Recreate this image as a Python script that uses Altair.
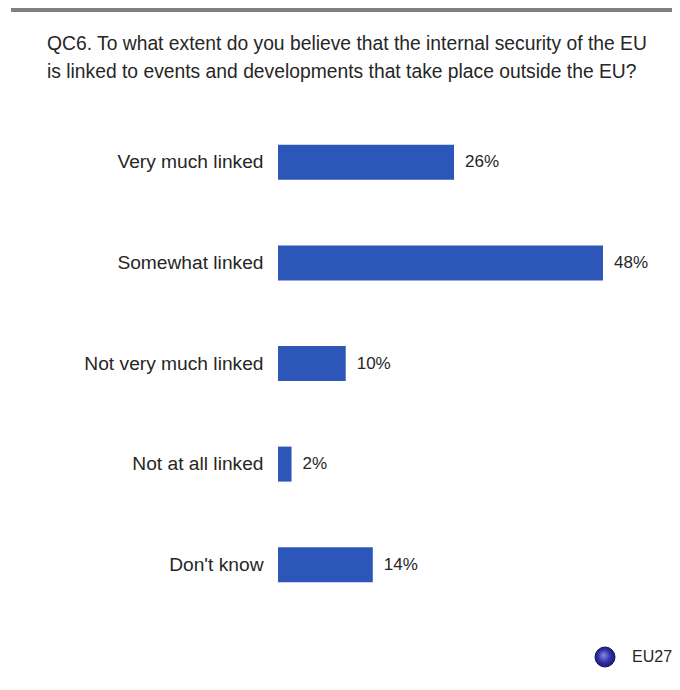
import altair as alt
import pandas as pd

categories = ["Very much linked", "Somewhat linked", "Not very much linked",
              "Not at all linked", "Don't know"]
values = [26, 48, 10, 2, 14]
value_labels = ["26%", "48%", "10%", "2%", "14%"]
series_name = ["EU27"]
title_lines = [
    "QC6. To what extent do you believe that the internal security of the EU",
    "is linked to events and developments that take place outside the EU?",
]

df = pd.DataFrame({"category": categories, "value": values, "label": value_labels})
legend_df = pd.DataFrame({"series": series_name})

FONT = "Liberation Sans"
BAR = "#2c56b8"
TEXT = "#262626"

x_scale = alt.Scale(domain=[0, 48], range=[270, 595], nice=False, zero=True)
y_scale = alt.Scale(domain=categories, range=[104, 607], paddingInner=0, paddingOuter=0)

gradient = alt.RadialGradient(
    gradient="radial", x1=0.42, y1=0.4, r1=0.0, x2=0.5, y2=0.5, r2=0.55,
    stops=[
        alt.GradientStop(offset=0.0, color="#8a8ae0"),
        alt.GradientStop(offset=0.55, color="#3434a8"),
        alt.GradientStop(offset=1.0, color="#14146a"),
    ],
)

base = alt.Chart(df)

bars = base.mark_bar(height=35, color=BAR).encode(
    x=alt.X("value:Q", scale=x_scale, axis=None),
    y=alt.Y("category:N", scale=y_scale, sort=categories,
            axis=alt.Axis(title=None, domain=False, ticks=False, tickSize=0,
                          labelPadding=0, offset=-255, labelFont=FONT,
                          labelFontSize=19.2, labelColor=TEXT, labelLimit=400)),
)

labels = base.mark_text(align="left", baseline="middle", dx=11, font=FONT,
                        fontSize=17, color=TEXT).encode(
    x=alt.X("value:Q", scale=x_scale),
    y=alt.Y("category:N", scale=y_scale, sort=categories),
    text="label:N",
)

top_rule = alt.Chart(df).mark_rule(color="#808080", strokeWidth=4).encode(
    x=alt.value(3), x2=alt.value(664), y=alt.value(2)
)

legend_dot = alt.Chart(legend_df).mark_point(
    shape="circle", size=400, filled=True, fill=gradient, stroke="#14146a",
    strokeWidth=1, opacity=1,
).encode(x=alt.value(597), y=alt.value(649))

legend_text = alt.Chart(legend_df).mark_text(
    align="left", baseline="middle", font=FONT, fontSize=16, color=TEXT,
).encode(x=alt.value(624), y=alt.value(649), text="series:N")

chart = alt.layer(top_rule, bars, labels, legend_dot, legend_text).properties(
    width=664, height=674,
    autosize=alt.AutoSizeParams(type="none"),
    padding=0,
    background="white",
    title=alt.TitleParams(text=title_lines, anchor="start", frame="group",
                          dx=39, dy=74, offset=0, font=FONT, fontSize=19.3,
                          fontWeight="normal", color=TEXT, lineHeight=28,
                          baseline="top"),
).configure_view(stroke=None)

chart.save("out.html", embed_options={"renderer": "svg", "actions": False})
